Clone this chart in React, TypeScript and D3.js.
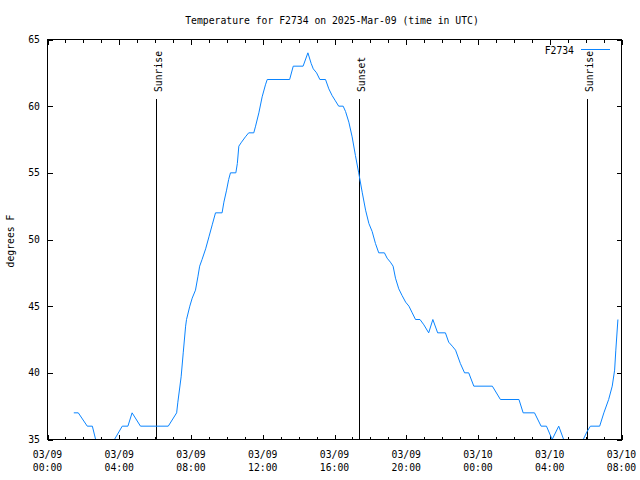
import React from "react";
import * as d3 from "d3";

// minutes since 03/09 00:00 UTC
const sampleMinutes = [
  88, 103, 133, 150, 172, 198, 250, 269, 283, 311, 404, 432, 436, 447, 454, 462, 465, 476, 484, 495,
  503, 509, 517, 529, 540, 551, 562, 584, 590, 599, 606, 612, 630, 635, 640, 649, 662, 673, 690, 696,
  707, 718, 729, 735, 810, 822, 855, 871, 882, 889, 900, 911, 930, 941, 952, 963, 974, 989, 997, 1008,
  1019, 1030, 1041, 1053, 1064, 1075, 1086, 1097, 1108, 1127, 1136, 1147, 1156, 1164, 1175, 1186, 1198, 1209, 1220, 1231,
  1246, 1259, 1275, 1289, 1305, 1331, 1342, 1354, 1365, 1381, 1395, 1409, 1426, 1488, 1515, 1577, 1591, 1629, 1651, 1669,
  1688, 1710, 1743, 1770, 1792, 1805, 1816, 1847, 1861, 1877, 1889, 1897, 1901, 1908,
];
const temperatures = [
  37, 37, 36, 36, 34, 34, 36, 36, 37, 36, 36, 37, 37.8, 39.7, 41.5, 43.5, 44, 45, 45.6, 46.2,
  47.2, 48, 48.5, 49.3, 50.2, 51.1, 52, 52, 52.8, 53.7, 54.5, 55, 55, 55.7, 57, 57.3, 57.7, 58, 58, 58.5,
  59.5, 60.7, 61.6, 62, 62, 63, 63, 64, 63.2, 62.8, 62.5, 62, 62, 61.3, 60.8, 60.4, 60, 60, 59.6, 58.8,
  57.7, 56.3, 55, 53.5, 52.2, 51.2, 50.6, 49.7, 49, 49, 48.6, 48.3, 48, 47.1, 46.3, 45.8, 45.3, 45, 44.5, 44,
  44, 43.6, 43, 44, 43, 43, 42.3, 42, 41.7, 40.7, 40, 40, 39, 39, 38, 38, 37, 37, 36, 36,
  35, 36, 34, 34, 35, 35.6, 36, 36, 37, 38, 39, 40.2, 41.7, 44,
];

const sunEventMinutes = [363, 1042, 1805];
const sunEventLabels = ["Sunrise", "Sunset", "Sunrise"];

const xTickMinutes = [0, 240, 480, 720, 960, 1200, 1440, 1680, 1920];
const xTickDates = ["03/09", "03/09", "03/09", "03/09", "03/09", "03/09", "03/10", "03/10", "03/10"];
const xTickTimes = ["00:00", "04:00", "08:00", "12:00", "16:00", "20:00", "00:00", "04:00", "08:00"];
const yTicks = [35, 40, 45, 50, 55, 60, 65];

const titleText = "Temperature for F2734 on 2025-Mar-09 (time in UTC)";
const seriesName = "F2734";
const yLabel = "degrees F";

const W = 640;
const H = 480;
const L = 47.5;
const R = 621.5;
const T = 39.5;
const B = 439.5;
const FONT = "'DejaVu Sans Mono', monospace";
const FS = 9.75;
const LINE = "#0a84ff";

export default function App() {
  const x = d3.scaleLinear().domain([0, 1920]).range([L, R]);
  const y = d3.scaleLinear().domain([35, 65]).range([B, T]);
  const pts: [number, number][] = sampleMinutes.map((m, i) => [m, temperatures[i]]);
  const line = d3
    .line<[number, number]>()
    .x((d) => x(d[0]))
    .y((d) => y(d[1]));
  const minor = d3.range(0, 1921, 60).filter((m) => m % 240 !== 0);

  return (
    <svg
      width={W}
      height={H}
      style={{ position: "absolute", left: 0, top: 0, background: "#fff" }}
      fontFamily={FONT}
      fontSize={FS}
    >
      <rect x={0} y={0} width={W} height={H} fill="#fff" />
      <defs>
        <clipPath id="plotclip">
          <rect x={L} y={T} width={R - L} height={B - T} />
        </clipPath>
      </defs>
      <text x={332} y={24} textAnchor="middle" fill="#000">
        {titleText}
      </text>

      {/* y ticks */}
      {yTicks.map((v) => (
        <g key={"y" + v}>
          <line x1={L} x2={L + 5} y1={Math.round(y(v)) + 0.5} y2={Math.round(y(v)) + 0.5} stroke="#000" shapeRendering="crispEdges" />
          <line x1={R - 5} x2={R} y1={Math.round(y(v)) + 0.5} y2={Math.round(y(v)) + 0.5} stroke="#000" shapeRendering="crispEdges" />
          <text x={40} y={y(v)} dy="0.35em" textAnchor="end" fill="#000">
            {v}
          </text>
        </g>
      ))}

      {/* x ticks */}
      {xTickMinutes.map((m, i) => (
        <g key={"x" + m}>
          <line x1={Math.round(x(m)) + 0.5} x2={Math.round(x(m)) + 0.5} y1={B} y2={B - 5} stroke="#000" shapeRendering="crispEdges" />
          <line x1={Math.round(x(m)) + 0.5} x2={Math.round(x(m)) + 0.5} y1={T} y2={T + 5} stroke="#000" shapeRendering="crispEdges" />
          <text x={x(m)} y={457.5} textAnchor="middle" fill="#000">
            {xTickDates[i]}
          </text>
          <text x={x(m)} y={471} textAnchor="middle" fill="#000">
            {xTickTimes[i]}
          </text>
        </g>
      ))}
      {minor.map((m) => (
        <g key={"m" + m}>
          <line x1={Math.round(x(m)) + 0.5} x2={Math.round(x(m)) + 0.5} y1={B} y2={B - 3} stroke="#000" shapeRendering="crispEdges" />
          <line x1={Math.round(x(m)) + 0.5} x2={Math.round(x(m)) + 0.5} y1={T} y2={T + 3} stroke="#000" shapeRendering="crispEdges" />
        </g>
      ))}

      {/* sun events */}
      {sunEventMinutes.map((m, i) => {
        const px = Math.round(x(m)) + 0.5;
        return (
          <g key={"s" + i}>
            <line x1={px} x2={px} y1={99} y2={B} stroke="#000" shapeRendering="crispEdges" />
            <text transform={`translate(${px + 5},92) rotate(-90)`} textAnchor="start" fill="#000">
              {sunEventLabels[i]}
            </text>
          </g>
        );
      })}

      {/* data */}
      <path d={line(pts) || ""} fill="none" stroke={LINE} strokeWidth={1} clipPath="url(#plotclip)" />

      {/* frame */}
      <rect x={L} y={T} width={R - L} height={B - T} fill="none" stroke="#000" shapeRendering="crispEdges" />

      {/* legend */}
      <text x={574} y={54} textAnchor="end" fill="#000">
        {seriesName}
      </text>
      <line x1={581} x2={610} y1={49.5} y2={49.5} stroke={LINE} shapeRendering="crispEdges" />

      {/* y label */}
      <text transform={`translate(14,241) rotate(-90)`} textAnchor="middle" fill="#000">
        {yLabel}
      </text>
    </svg>
  );
}
